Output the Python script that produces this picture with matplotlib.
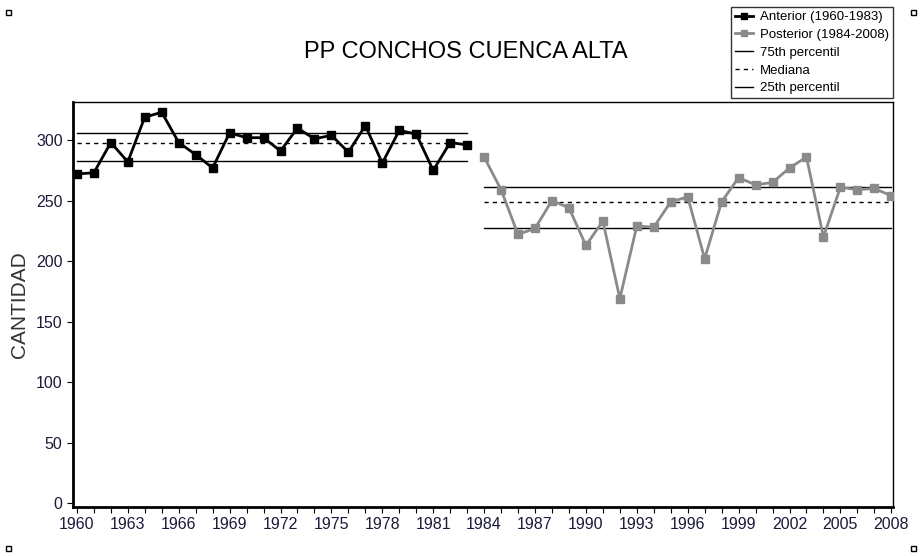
import matplotlib
matplotlib.use("Agg")
import matplotlib.pyplot as plt
from matplotlib.lines import Line2D
from matplotlib.patches import Rectangle

plt.rcParams['font.family'] = ['Liberation Sans', 'DejaVu Sans']

years_a = list(range(1960, 1984))
vals_a = [272, 273, 298, 282, 319, 323, 298, 288, 277, 306, 302, 302, 291, 310, 301,
          304, 290, 312, 281, 308, 305, 275, 298, 296]
years_p = list(range(1984, 2009))
vals_p = [286, 259, 222, 227, 250, 244, 213, 233, 169, 229, 228, 249, 253, 202, 249,
          269, 263, 265, 277, 286, 220, 261, 259, 260, 254]
perc_a = {"p75": 305.5, "med": 298, "p25": 282.5}
perc_p = {"p75": 261, "med": 249, "p25": 227.5}

title = "PP CONCHOS CUENCA ALTA"
ylabel = "CANTIDAD"
xticks = list(range(1960, 2009, 3))
yticks = [0, 50, 100, 150, 200, 250, 300]
labels = ["Anterior (1960-1983)", "Posterior (1984-2008)", "75th percentil", "Mediana", "25th percentil"]

gray = "#8a8a8a"
fig = plt.figure(figsize=(9.22, 5.56), dpi=100)
ax = fig.add_axes([73/922, 49/556, 820/922, 405/556])

for yrs, pc in ((years_a, perc_a), (years_p, perc_p)):
    ax.plot([yrs[0], yrs[-1]], [pc["p75"]] * 2, color="black", lw=1)
    ax.plot([yrs[0], yrs[-1]], [pc["med"]] * 2, color="black", lw=1, ls=(0, (3, 3)))
    ax.plot([yrs[0], yrs[-1]], [pc["p25"]] * 2, color="black", lw=1)

ax.plot(years_a, vals_a, color="black", lw=2, marker="s", ms=5.5, zorder=3)
ax.plot(years_p, vals_p, color=gray, lw=2, marker="s", ms=5.5, zorder=3)

ax.set_xlim(1959.77, 2008.1)
ax.set_ylim(-3.3, 331.5)
ax.set_xticks(xticks)
ax.set_xticks(range(1960, 2009), minor=True)
ax.set_yticks(yticks)
ax.tick_params(axis="both", which="major", length=4, width=0.8, labelsize=11.5, direction="out")
ax.tick_params(axis="x", which="minor", length=4, width=0.8)
for lab in ax.get_xticklabels() + ax.get_yticklabels():
    lab.set_color("#1a1a3a")

for s in ("left", "bottom"):
    ax.spines[s].set_linewidth(2)
for s in ("right", "top"):
    ax.spines[s].set_linewidth(1)

ax.set_ylabel(ylabel, fontsize=15, color="#333333", labelpad=5)
fig.text(466/922, 1 - 52/556, title, fontsize=17, ha="center", va="center")

handles = [
    Line2D([], [], color="black", lw=2, marker="s", ms=5),
    Line2D([], [], color=gray, lw=2, marker="s", ms=5),
    Line2D([], [], color="black", lw=1),
    Line2D([], [], color="black", lw=1, ls=(0, (3, 3))),
    Line2D([], [], color="black", lw=1),
]
leg = fig.legend(handles, labels, loc="upper right", bbox_to_anchor=(893/922, 1 - 7/556),
                 fontsize=9.5, frameon=True, fancybox=False, edgecolor="black",
                 handlelength=1.4, handletextpad=0.5, labelspacing=0.42,
                 borderpad=0.3, borderaxespad=0)
leg.get_frame().set_linewidth(1)

for (px, py) in ((8, 12), (913, 12), (8, 548), (913, 548)):
    fig.patches.append(Rectangle((px/922 - 2.5/922, 1 - py/556 - 2.5/556), 5/922, 5/556,
                                 transform=fig.transFigure, fill=False, edgecolor="black", lw=1))

fig.savefig("out.png", dpi=100)
